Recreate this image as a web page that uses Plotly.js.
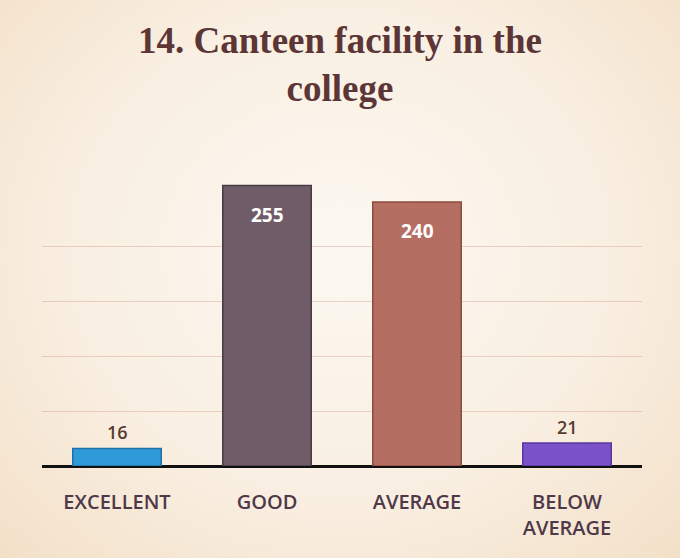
<!DOCTYPE html>
<html>
<head>
<meta charset="utf-8">
<script src="https://cdn.plot.ly/plotly-3.0.1.min.js"></script>
<style>
  html, body { margin: 0; padding: 0; }
  body { background: radial-gradient(ellipse at 50% 45%, #fcf8f1 0%, #f9efe2 55%, #f3e0c8 100%); width: 680px; height: 558px; }
  #chart { width: 680px; height: 558px; }
</style>
</head>
<body>
<div id="chart"></div>
<script>
const categories = ["EXCELLENT", "GOOD", "AVERAGE", "BELOW<br>AVERAGE"];
const responses = [16, 255, 240, 21];
const barColors = ["#2f9ad8", "#6f5c68", "#b56e62", "#7c52c8"];
const barEdges = ["#1f6fa8", "#4a3a44", "#8e4a3e", "#5a36a0"];
const gridValues = [50, 100, 150, 200];
const labelInside = [false, true, true, false];

const trace = {
  type: "bar",
  x: categories,
  y: responses,
  marker: { color: barColors, line: { color: barEdges, width: 1.5 } },
  hoverinfo: "x+y"
};

const annotations = categories.map((c, i) => ({
  x: c, y: responses[i], xref: "x", yref: "y",
  text: labelInside[i] ? "<b>" + responses[i] + "</b>" : String(responses[i]),
  showarrow: false,
  yanchor: labelInside[i] ? "top" : "bottom",
  yshift: labelInside[i] ? -14 : 2,
  font: labelInside[i]
    ? { family: "Open Sans, sans-serif", size: 19, color: "#ffffff" }
    : { family: "Open Sans, sans-serif", size: 18, weight: 600, color: "#5a3b30" }
}));

const layout = {
  width: 680, height: 558,
  paper_bgcolor: "rgba(0,0,0,0)",
  plot_bgcolor: "rgba(0,0,0,0)",
  margin: { l: 42, r: 38, t: 136, b: 92 },
  title: {
    text: "<b>14. Canteen facility in the<br>college</b>",
    x: 0.5, xanchor: "center", xref: "container",
    y: 0.905, yanchor: "top", yref: "container",
    font: { family: "Liberation Serif, DejaVu Serif, serif", size: 37, color: "#5c3636" }
  },
  bargap: 0.41,
  showlegend: false,
  annotations: annotations,
  xaxis: {
    showline: false, showgrid: false, ticks: "",
    ticklabelstandoff: 22,
    tickfont: { family: "Open Sans, sans-serif", size: 20, weight: 600, color: "#4f3848" }
  },
  yaxis: {
    range: [0, 300],
    tickvals: gridValues,
    showticklabels: false,
    showgrid: true,
    gridcolor: "rgba(200,120,110,0.3)",
    gridwidth: 1,
    zeroline: true,
    zerolinecolor: "#111111",
    zerolinewidth: 3,
    showline: false
  }
};

Plotly.newPlot("chart", [trace], layout, { displayModeBar: false, staticPlot: true });
</script>
</body>
</html>
